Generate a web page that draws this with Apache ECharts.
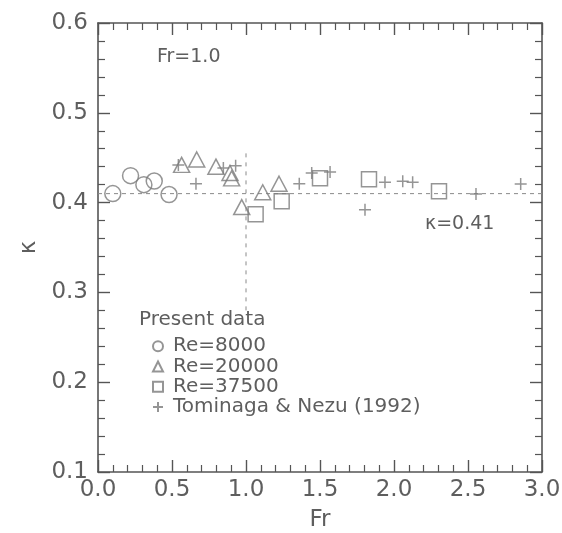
<!DOCTYPE html>
<html>
<head>
<meta charset="utf-8">
<script src="https://cdn.jsdelivr.net/npm/echarts@6/dist/echarts.min.js"></script>
<style>
  html, body { margin: 0; padding: 0; background: #fff; }
  #chart { width: 562px; height: 533px; }
</style>
</head>
<body>
<div id="chart"></div>
<script>
// Von Karman constant kappa against Froude number Fr
const re8000Fr = [0.10, 0.22, 0.31, 0.38, 0.48];
const re8000K  = [0.410, 0.430, 0.420, 0.424, 0.409];

const re20000Fr = [0.565, 0.667, 0.797, 0.892, 0.903, 0.971, 1.113, 1.223];
const re20000K  = [0.442, 0.448, 0.440, 0.433, 0.427, 0.395, 0.4115, 0.421];

const re37500Fr = [1.065, 1.241, 1.500, 1.831, 2.304];
const re37500K  = [0.387, 0.4015, 0.427, 0.426, 0.4126];

const tnFr = [0.543, 0.662, 0.847, 0.930, 1.360, 1.444, 1.568, 1.804, 1.939, 2.059, 2.126, 2.554, 2.856];
const tnK  = [0.442, 0.421, 0.4386, 0.441, 0.421, 0.433, 0.434, 0.392, 0.4226, 0.4237, 0.4226, 0.4097, 0.4208];

const kappaRef = 0.41;
const kappaLineFr = [0.0, 3.0];
const froudeCrit = 1.0;
const froudeLineK = [0.28, 0.46];

const xTicks = { min: 0, max: 3, interval: 0.5 };
const yTicks = { min: 0.1, max: 0.6, interval: 0.1 };

const seriesNames = ['Re=8000', 'Re=20000', 'Re=37500', 'Tominaga & Nezu (1992)'];

const FONT = 'DejaVu Sans';
const TEXT = '#5e5e5e';
const AXIS = '#555';
const MARK = '#7a7a7a';

function pairs(xs, ys) { return xs.map((x, i) => [x, ys[i]]); }

const hollow = { color: 'transparent', borderColor: MARK, borderWidth: 1.5 };
const plusPath = 'path://M0,6H12M6,0V12';

function frameAxis(extra, tick) {
  return Object.assign({
    type: 'value',
    min: tick.min, max: tick.max, interval: tick.interval,
    axisLine: { show: true, onZero: false, lineStyle: { color: AXIS, width: 1.6 } },
    axisTick: { show: true, inside: true, length: 12, lineStyle: { color: AXIS, width: 1.4 } },
    minorTick: { show: true, splitNumber: 5, length: 7, lineStyle: { color: AXIS, width: 1.2 } },
    splitLine: { show: false },
    axisLabel: { show: false }
  }, extra);
}

const chart = echarts.init(document.getElementById('chart'), null, { renderer: 'canvas' });

chart.setOption({
  animation: false,
  backgroundColor: '#fff',
  grid: { left: 98, right: 20, top: 23, bottom: 61, containLabel: false, outerBoundsMode: 'none' },
  xAxis: [
    frameAxis({
      position: 'bottom',
      name: 'Fr', nameLocation: 'middle', nameGap: 37,
      nameTextStyle: { fontFamily: FONT, fontSize: 23, color: TEXT },
      axisLabel: {
        show: true, margin: 7, fontFamily: FONT, fontSize: 23, color: TEXT,
        formatter: v => v.toFixed(1)
      }
    }, xTicks),
    frameAxis({ position: 'top' }, xTicks)
  ],
  yAxis: [
    frameAxis({
      position: 'left',
      name: 'κ', nameLocation: 'middle', nameGap: 53, nameRotate: 90,
      nameTextStyle: { fontFamily: FONT, fontSize: 23, color: TEXT },
      axisLabel: {
        show: true, margin: 10, fontFamily: FONT, fontSize: 23, color: TEXT,
        formatter: v => v.toFixed(1)
      }
    }, yTicks),
    frameAxis({ position: 'right' }, yTicks)
  ],
  legend: {
    show: true,
    data: seriesNames,
    orient: 'vertical',
    left: 152, top: 336,
    itemWidth: 10, itemHeight: 10, itemGap: 0,
    padding: 0,
    textStyle: { fontFamily: FONT, fontSize: 20, color: TEXT, lineHeight: 20.3, padding: [0, 0, 0, 5] }
  },
  graphic: [
    { type: 'text', left: 139, top: 310, style: { text: 'Present data', font: '20px "DejaVu Sans"', fill: TEXT } },
    { type: 'text', left: 157, top: 48, style: { text: 'Fr=1.0', font: '19px "DejaVu Sans"', fill: TEXT } },
    { type: 'text', left: 425, top: 215, style: { text: 'κ=0.41', font: '19px "DejaVu Sans"', fill: TEXT } }
  ],
  series: [
    {
      name: 'kappa-ref', type: 'line', silent: true, symbol: 'none',
      data: kappaLineFr.map(f => [f, kappaRef]),
      lineStyle: { color: '#8a8a8a', width: 1, type: [4, 4] }, z: 1
    },
    {
      name: 'fr-ref', type: 'line', silent: true, symbol: 'none',
      data: froudeLineK.map(k => [froudeCrit, k]),
      lineStyle: { color: '#8a8a8a', width: 1, type: [4, 5] }, z: 1
    },
    {
      name: seriesNames[0], type: 'scatter', symbol: 'circle', symbolSize: 16,
      data: pairs(re8000Fr, re8000K), itemStyle: hollow, z: 3
    },
    {
      name: seriesNames[1], type: 'scatter', symbol: 'triangle', symbolSize: [16, 15],
      data: pairs(re20000Fr, re20000K), itemStyle: hollow, z: 3
    },
    {
      name: seriesNames[2], type: 'scatter', symbol: 'rect', symbolSize: 15,
      data: pairs(re37500Fr, re37500K), itemStyle: hollow, z: 3
    },
    {
      name: seriesNames[3], type: 'scatter', symbol: plusPath, symbolSize: 12,
      data: pairs(tnFr, tnK), itemStyle: hollow, z: 3
    }
  ]
});
</script>
</body>
</html>
